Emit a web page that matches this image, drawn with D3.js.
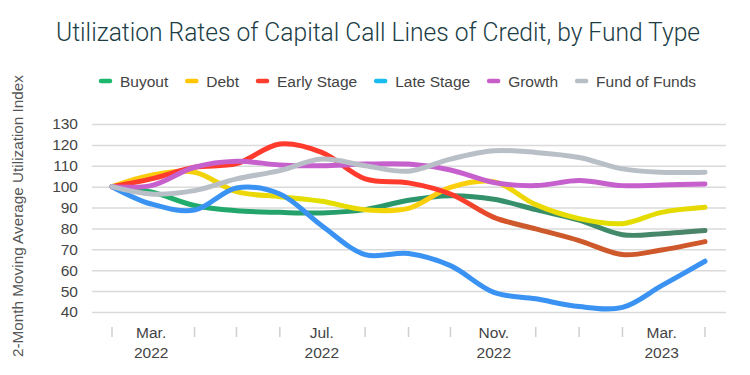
<!DOCTYPE html>
<html>
<head>
<meta charset="utf-8">
<script src="https://cdn.jsdelivr.net/npm/d3@7"></script>
<style>
  body { margin: 0; background: #fff; }
  svg { display: block; }
</style>
</head>
<body>
<div id="chart"></div>
<script>
// months Feb 2022 .. Apr 2023
const months = ['2022-02', '2022-03', '2022-04', '2022-05', '2022-06', '2022-07', '2022-08', '2022-09',
  '2022-10', '2022-11', '2022-12', '2023-01', '2023-02', '2023-03', '2023-04']
const labelMonths = ['2022-03', '2022-07', '2022-11', '2023-03']
const yTicks = [40, 50, 60, 70, 80, 90, 100, 110, 120, 130]

const seriesNames = ['Buyout', 'Debt', 'Early Stage', 'Late Stage', 'Growth', 'Fund of Funds']
const buyout = [100, 97.5, 91, 88.5, 87.7, 87.4, 89, 93.5, 95.7, 94, 89, 84, 77, 77.5, 79]
const debt = [100, 105.5, 106.9, 97.6, 95.2, 93, 89, 89.6, 99.7, 102.4, 91.4, 84.7, 82.3, 87.7, 90.1]
const earlyStage = [100, 103.7, 109.3, 111, 120.4, 116.4, 103.7, 101.8, 96.5, 85.3, 79.8, 74.2, 67.5, 69.7, 73.7]
const lateStage = [100, 91.7, 88.8, 99.4, 96.5, 81.3, 67.5, 68, 62.2, 49.4, 46.3, 42.6, 42.2, 52.6, 64.3]
const growth = [100, 100.5, 109.3, 112.2, 110.4, 110, 110.8, 110.8, 108, 102, 100.5, 102.9, 100.5, 100.8, 101.3]
const fundOfFunds = [100, 96.5, 98.1, 103.7, 107.7, 113.2, 110, 107.4, 113.2, 117.2, 116.4, 114, 108.5, 106.9, 106.9]

const legendColors = ['#1cb86b', '#ffc700', '#ff3d2e', '#19bdf0', '#c85ec8', '#b8bec6']
// line strokes shift colour a little from left to right
const lineStops = [
  [['0', '#1cb36b'], ['0.5', '#2a966b'], ['1', '#4c8469']],
  [['0', '#ffc812'], ['0.35', '#e2df00'], ['0.55', '#ffcc10'], ['0.8', '#e3df00'], ['1', '#e6d800']],
  [['0', '#ff3b2e'], ['0.58', '#ff3b2e'], ['0.68', '#cc5a2a'], ['1', '#d0582c']],
  [['0', '#3a92f2'], ['1', '#3a92f2']],
  [['0', '#c660cc'], ['1', '#c660cc']],
  [['0', '#b9bfc6'], ['1', '#b9bfc6']]
]

const width = 750
const height = 375
const margin = { top: 124, right: 45, bottom: 63, left: 112 }
const parse = d3.timeParse('%Y-%m')
const fmtMon = d3.timeFormat('%b.')
const fmtYear = d3.timeFormat('%Y')

const svg = d3.select('#chart').append('svg')
  .attr('width', width)
  .attr('height', height)
  .style('font-family', "'Liberation Sans', Arial, sans-serif")

const x = d3.scaleTime()
  .domain([parse(months[0]), parse(months[months.length - 1])])
  .range([margin.left, width - margin.right])
const y = d3.scaleLinear()
  .domain([40, 130])
  .range([height - margin.bottom, margin.top])

// title
svg.append('text')
  .attr('x', 378)
  .attr('y', 41)
  .attr('text-anchor', 'middle')
  .attr('textLength', 644)
  .attr('lengthAdjust', 'spacingAndGlyphs')
  .style('font-family', "Roboto, 'Open Sans', sans-serif")
  .style('font-weight', 300)
  .style('font-size', '26px')
  .style('fill', '#1b3d45')
  .text('Utilization Rates of Capital Call Lines of Credit, by Fund Type')

// y axis title
svg.append('text')
  .attr('transform', `translate(23,${(y(40) + 60) / 2 + 30}) rotate(-90)`)
  .attr('text-anchor', 'middle')
  .style('font-size', '15.3px')
  .style('fill', '#555')
  .text('2-Month Moving Average Utilization Index')

// gridlines + y labels
const yAxis = svg.append('g')
  .attr('transform', `translate(${margin.left - 20},0)`)
  .call(d3.axisLeft(y).tickValues(yTicks).tickSize(-(width - margin.right - margin.left + 41)).tickPadding(14))
yAxis.select('.domain').remove()
yAxis.selectAll('.tick line').attr('stroke', '#dadada').attr('stroke-width', 1.5)
yAxis.selectAll('.tick text')
  .style('font-size', '15.5px')
  .style('fill', '#444')
  .style('font-family', "'Liberation Sans', Arial, sans-serif")

// x axis: small ticks at each month, labels replace the tick at label months
const monthDates = months.map(parse)
const labelDates = labelMonths.map(parse)
const isLabel = d => labelMonths.includes(d3.timeFormat('%Y-%m')(d))

svg.append('g')
  .selectAll('line')
  .data(monthDates.filter(d => !isLabel(d)))
  .enter().append('line')
  .attr('x1', d => x(d))
  .attr('x2', d => x(d))
  .attr('y1', y(40) + 15)
  .attr('y2', y(40) + 25)
  .attr('stroke', '#cfcfcf')
  .attr('stroke-width', 1.5)

const xLabels = svg.append('g')
  .selectAll('text')
  .data(labelDates)
  .enter().append('text')
  .attr('x', d => x(d))
  .attr('text-anchor', 'middle')
  .style('font-size', '15.5px')
  .style('fill', '#444')
xLabels.append('tspan').attr('x', d => x(d)).attr('y', y(40) + 26).text(d => fmtMon(d))
xLabels.append('tspan').attr('x', d => x(d)).attr('y', y(40) + 46).text(d => fmtYear(d))

// gradients
const defs = svg.append('defs')
lineStops.forEach((stops, i) => {
  const g = defs.append('linearGradient')
    .attr('id', `grad${i}`)
    .attr('gradientUnits', 'userSpaceOnUse')
    .attr('x1', x.range()[0]).attr('x2', x.range()[1])
    .attr('y1', 0).attr('y2', 0)
  stops.forEach(s => g.append('stop').attr('offset', s[0]).attr('stop-color', s[1]))
})

// lines
const allSeries = [buyout, debt, earlyStage, lateStage, growth, fundOfFunds]
const line = d3.line()
  .x((_, i) => x(monthDates[i]))
  .y(d => y(d))
  .curve(d3.curveCatmullRom.alpha(0.5))

svg.append('g')
  .selectAll('path')
  .data(allSeries)
  .enter().append('path')
  .attr('d', d => line(d))
  .attr('fill', 'none')
  .attr('stroke', (_, i) => `url(#grad${i})`)
  .attr('stroke-width', 5)
  .attr('stroke-linecap', 'round')
  .attr('stroke-linejoin', 'round')

// legend
const legend = svg.append('g').attr('transform', 'translate(0,81)')
let lx = 99
seriesNames.forEach((name, i) => {
  const item = legend.append('g').attr('transform', `translate(${lx},0)`)
  item.append('line')
    .attr('x1', 2).attr('x2', 11)
    .attr('y1', 0).attr('y2', 0)
    .attr('stroke', legendColors[i])
    .attr('stroke-width', 4.5)
    .attr('stroke-linecap', 'round')
  const t = item.append('text')
    .attr('x', 21)
    .attr('y', 5.5)
    .style('font-size', '15.5px')
    .style('fill', '#444')
    .text(name)
  lx += 21 + t.node().getComputedTextLength() + 17
})
</script>
</body>
</html>
